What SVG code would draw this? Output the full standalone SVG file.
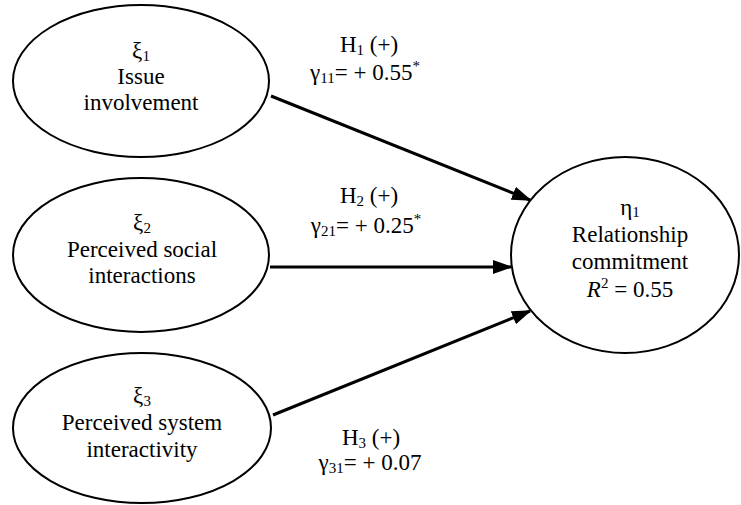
<svg xmlns="http://www.w3.org/2000/svg" width="741" height="505" viewBox="0 0 741 505">
<style>
.n{fill:#fff;stroke:#000;stroke-width:2}
.t{font-size:23px;fill:#000;text-anchor:middle}
.s{font-size:15px}
.c{stroke:#000;stroke-width:3;fill:none}
</style>
<defs>
<marker id="ah" markerUnits="userSpaceOnUse" markerWidth="20" markerHeight="14" refX="18" refY="7" orient="auto">
<path d="M0,0 L20,7 L0,14 z" fill="#000"/>
</marker>
</defs>
<rect width="741" height="505" fill="#fff"/>
<g id="connectors">
<line class="c" x1="271" y1="96" x2="530" y2="200" marker-end="url(#ah)"/>
<line class="c" x1="270" y1="267" x2="511" y2="267" marker-end="url(#ah)"/>
<line class="c" x1="273" y1="415" x2="530" y2="311" marker-end="url(#ah)"/>
</g>
<g font-family="Liberation Serif, Tinos, Noto Serif, DejaVu Serif, serif">
<g id="xi1">
<ellipse class="n" cx="141" cy="81" rx="128" ry="76"/>
<text class="t" x="141" y="58">ξ<tspan class="s" dy="3">1</tspan></text>
<text class="t" x="141" y="84">Issue</text>
<text class="t" x="141" y="110">involvement</text>
</g>
<g id="xi2">
<ellipse class="n" cx="141" cy="255" rx="128" ry="77"/>
<text class="t" x="142" y="230">ξ<tspan class="s" dy="3">2</tspan></text>
<text class="t" x="142" y="257">Perceived social</text>
<text class="t" x="142" y="283">interactions</text>
</g>
<g id="xi3">
<ellipse class="n" cx="142" cy="428" rx="129" ry="75"/>
<text class="t" x="142" y="403">ξ<tspan class="s" dy="3">3</tspan></text>
<text class="t" x="142" y="430">Perceived system</text>
<text class="t" x="142" y="457">interactivity</text>
</g>
<g id="eta1">
<ellipse class="n" cx="625" cy="255" rx="114" ry="98"/>
<text class="t" x="630" y="215">η<tspan class="s" dy="2">1</tspan></text>
<text class="t" x="630" y="242">Relationship</text>
<text class="t" x="630" y="269">commitment</text>
<text class="t" x="630" y="297"><tspan font-style="italic">R</tspan><tspan class="s" dy="-9">2</tspan><tspan dy="9"> = 0.55</tspan></text>
</g>
<g id="labels">
<text class="t" x="369" y="52">H<tspan class="s" dy="3">1</tspan><tspan dy="-3"> (+)</tspan></text>
<text class="t" x="365" y="80">γ<tspan class="s" dy="3">11</tspan><tspan dy="-3">= + 0.55</tspan><tspan class="s" dy="-9">*</tspan></text>
<text class="t" x="369" y="203">H<tspan class="s" dy="3">2</tspan><tspan dy="-3"> (+)</tspan></text>
<text class="t" x="366" y="233">γ<tspan class="s" dy="3">21</tspan><tspan dy="-3">= + 0.25</tspan><tspan class="s" dy="-9">*</tspan></text>
<text class="t" x="371" y="445">H<tspan class="s" dy="3">3</tspan><tspan dy="-3"> (+)</tspan></text>
<text class="t" x="370" y="470">γ<tspan class="s" dy="3">31</tspan><tspan dy="-3">= + 0.07</tspan></text>
</g>
</g>
</svg>
